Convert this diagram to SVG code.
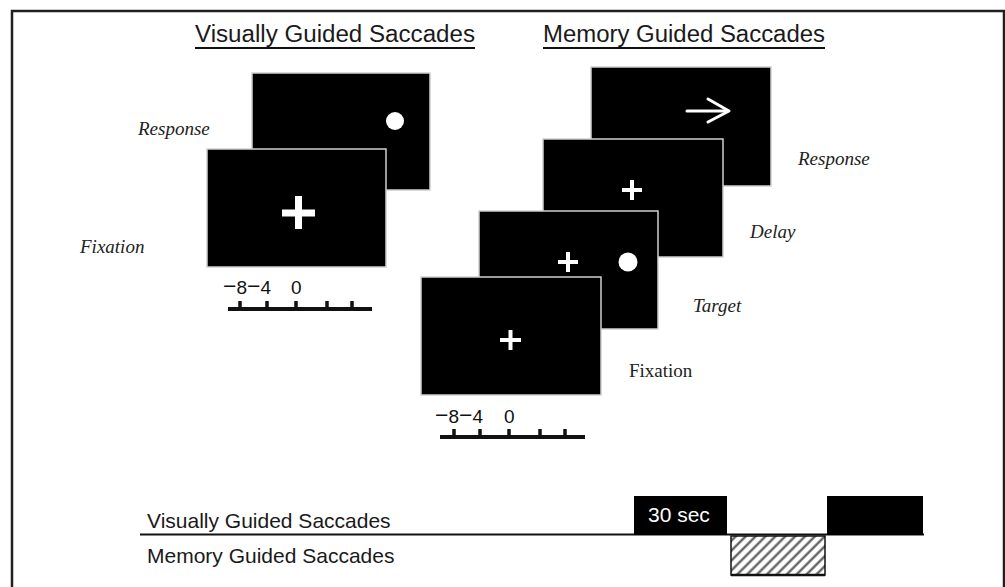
<svg xmlns="http://www.w3.org/2000/svg" width="1005" height="587" viewBox="0 0 1005 587">
<style>
.scr{fill:#000;stroke:#d0d0d0;stroke-width:1.5}
.ttl{font-family:"Liberation Sans",Arial,sans-serif;font-size:23px;fill:#1a1a1a}
.lab{font-family:"Liberation Serif","Times New Roman",serif;font-size:19px;fill:#222;font-style:italic}
.labr{font-family:"Liberation Serif","Times New Roman",serif;font-size:19px;fill:#222}
.sc{font-family:"Liberation Sans",Arial,sans-serif;font-size:19px;fill:#111}
.mn{font-size:23px}
.tl{font-family:"Liberation Sans",Arial,sans-serif;font-size:21px;fill:#1a1a1a}
.ln{stroke:#111;fill:none}
.wh{fill:#fff}
</style>
<defs>
<pattern id="hatch" patternUnits="userSpaceOnUse" width="7" height="7" patternTransform="rotate(45)">
<rect width="7" height="7" fill="#fff"/>
<line x1="3.5" y1="0" x2="3.5" y2="7" stroke="#555" stroke-width="2.2"/>
</pattern>
</defs>
<rect x="0" y="0" width="1005" height="587" fill="#fff"/>
<rect x="12" y="11" width="992" height="600" fill="none" stroke="#231f20" stroke-width="2.5"/>

<g id="titles">
<text class="ttl" x="195" y="42" textLength="280" lengthAdjust="spacingAndGlyphs">Visually Guided Saccades</text>
<line class="ln" x1="195" y1="48" x2="475" y2="48" stroke-width="2"/>
<text class="ttl" x="543" y="42" textLength="282" lengthAdjust="spacingAndGlyphs">Memory Guided Saccades</text>
<line class="ln" x1="543" y1="48" x2="825" y2="48" stroke-width="2"/>
</g>

<g id="vg-response">
<rect class="scr" x="252" y="73" width="178" height="117"/>
<circle class="wh" cx="395" cy="121" r="9"/>
<text class="lab" x="138" y="135">Response</text>
</g>
<g id="vg-fixation">
<rect class="scr" x="207" y="149" width="179" height="118"/>
<rect class="wh" x="282" y="209.5" width="33" height="7"/>
<rect class="wh" x="295" y="196" width="7" height="33"/>
<text class="lab" x="80" y="253">Fixation</text>
</g>
<g id="vg-scale">
<text class="sc" x="223" y="294"><tspan class="mn">−</tspan>8<tspan class="mn">−</tspan>4</text>
<text class="sc" x="291" y="294">0</text>
<line class="ln" x1="228" y1="309" x2="372" y2="309" stroke-width="4"/>
<g stroke="#111" stroke-width="3.5">
<line x1="240" y1="301" x2="240" y2="309"/>
<line x1="267" y1="301" x2="267" y2="309"/>
<line x1="296" y1="301" x2="296" y2="309"/>
<line x1="327" y1="301" x2="327" y2="309"/>
<line x1="352" y1="301" x2="352" y2="309"/>
</g>
</g>

<g id="mg-response">
<rect class="scr" x="591" y="67" width="180" height="119"/>
<g stroke="#fff" stroke-width="3" fill="none" stroke-linecap="round" stroke-linejoin="round">
<line x1="687" y1="111" x2="727" y2="111"/>
<polyline points="708,99 729,111 708,122"/>
</g>
<text class="lab" x="798" y="165">Response</text>
</g>
<g id="mg-delay">
<rect class="scr" x="543" y="139" width="180" height="118"/>
<rect class="wh" x="622" y="188" width="20" height="4"/>
<rect class="wh" x="630" y="180" width="4" height="20"/>
<text class="lab" x="750" y="238">Delay</text>
</g>
<g id="mg-target">
<rect class="scr" x="479" y="211" width="179" height="118"/>
<rect class="wh" x="558" y="260" width="20" height="4"/>
<rect class="wh" x="566" y="252" width="4" height="20"/>
<circle class="wh" cx="628" cy="262" r="9.5"/>
<text class="lab" x="693" y="312">Target</text>
</g>
<g id="mg-fixation">
<rect class="scr" x="421" y="277" width="180" height="118"/>
<rect class="wh" x="500" y="338" width="21" height="4"/>
<rect class="wh" x="508.5" y="330" width="4" height="20"/>
<text class="labr" x="629" y="377">Fixation</text>
</g>
<g id="mg-scale">
<text class="sc" x="435" y="423"><tspan class="mn">−</tspan>8<tspan class="mn">−</tspan>4</text>
<text class="sc" x="504" y="423">0</text>
<line class="ln" x1="440" y1="437" x2="585" y2="437" stroke-width="4"/>
<g stroke="#111" stroke-width="3.5">
<line x1="454" y1="429" x2="454" y2="437"/>
<line x1="480" y1="429" x2="480" y2="437"/>
<line x1="509" y1="429" x2="509" y2="437"/>
<line x1="540" y1="429" x2="540" y2="437"/>
<line x1="565" y1="429" x2="565" y2="437"/>
</g>
</g>

<g id="timeline">
<text class="tl" x="147" y="528">Visually Guided Saccades</text>
<text class="tl" x="147" y="563">Memory Guided Saccades</text>
<line class="ln" x1="140" y1="534.5" x2="924" y2="534.5" stroke-width="2"/>
<rect x="634" y="496" width="93" height="39" fill="#000"/>
<text x="648" y="522" font-family="'Liberation Sans',Arial,sans-serif" font-size="21" fill="#fff">30 sec</text>
<rect x="731" y="536" width="94" height="39" fill="url(#hatch)" stroke="#111" stroke-width="1.5"/>
<line class="ln" x1="731" y1="575" x2="825" y2="575" stroke-width="2.5"/>
<rect x="827" y="496" width="96" height="39" fill="#000"/>
</g>
</svg>
